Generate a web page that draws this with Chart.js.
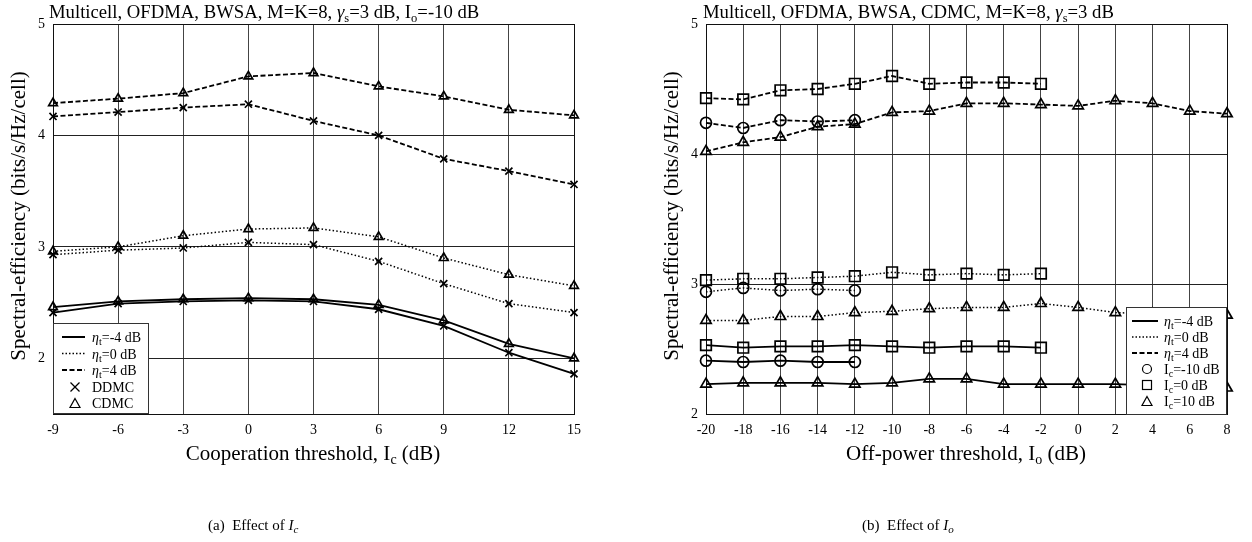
<!DOCTYPE html>
<html>
<head>
<meta charset="utf-8">
<script src="https://cdn.jsdelivr.net/npm/chart.js@4/dist/chart.umd.min.js"></script>
<style>
  html, body { margin:0; padding:0; background:#fff; }
  #wrap { position:relative; width:1252px; height:542px; overflow:hidden; }
  canvas { position:absolute; top:0; }
  #overlay { position:absolute; left:0; top:0; pointer-events:none; }
</style>
</head>
<body>
<div id="wrap">
  <canvas id="c1" width="626" height="470" style="left:0"></canvas>
  <canvas id="c2" width="626" height="470" style="left:626px"></canvas>
  <svg id="overlay" width="1252" height="542" font-family="Liberation Serif, Times New Roman, serif" fill="#000">
    <!-- titles -->
    <text x="49" y="17.5" font-size="18.7">Multicell, OFDMA, BWSA, M=K=8, <tspan font-style="italic">γ</tspan><tspan font-size="12.5" dy="4">s</tspan><tspan dy="-4">=3 dB, I</tspan><tspan font-size="12.5" dy="4">o</tspan><tspan dy="-4">=-10 dB</tspan></text>
    <text x="703" y="17.5" font-size="18.7">Multicell, OFDMA, BWSA, CDMC, M=K=8, <tspan font-style="italic">γ</tspan><tspan font-size="12.5" dy="4">s</tspan><tspan dy="-4">=3 dB</tspan></text>
    <!-- y labels -->
    <text transform="translate(25,216) rotate(-90)" text-anchor="middle" font-size="21">Spectral-efficiency (bits/s/Hz/cell)</text>
    <text transform="translate(678,216) rotate(-90)" text-anchor="middle" font-size="21">Spectral-efficiency (bits/s/Hz/cell)</text>
    <!-- x labels -->
    <text x="313" y="460" text-anchor="middle" font-size="21">Cooperation threshold, I<tspan font-size="14" dy="4">c</tspan><tspan dy="-4"> (dB)</tspan></text>
    <text x="966" y="460" text-anchor="middle" font-size="21">Off-power threshold, I<tspan font-size="14" dy="4">o</tspan><tspan dy="-4"> (dB)</tspan></text>
    <!-- captions -->
    <text x="208" y="530" font-size="15" xml:space="preserve">(a)  Effect of <tspan font-style="italic">I</tspan><tspan font-style="italic" font-size="11" dy="3">c</tspan></text>
    <text x="862" y="530" font-size="15" xml:space="preserve">(b)  Effect of <tspan font-style="italic">I</tspan><tspan font-style="italic" font-size="11" dy="3">o</tspan></text>

    <!-- left legend -->
    <g id="leg1">
      <rect x="53.5" y="323.5" width="95" height="90" fill="#fff" stroke="#333" stroke-width="1"/>
      <line x1="62" y1="337" x2="85" y2="337" stroke="#000" stroke-width="2"/>
      <line x1="62" y1="353.5" x2="85" y2="353.5" stroke="#000" stroke-width="1.5" stroke-dasharray="1.5 2"/>
      <line x1="62" y1="370" x2="85" y2="370" stroke="#000" stroke-width="2" stroke-dasharray="5 2.5"/>
      <g stroke="#000" stroke-width="1.3">
        <line x1="70.5" y1="382.5" x2="79.5" y2="391.5"/><line x1="70.5" y1="391.5" x2="79.5" y2="382.5"/>
      </g>
      <polygon points="75,398.5 80,407.5 70,407.5" fill="none" stroke="#000" stroke-width="1.2"/>
      <g font-size="14">
        <text x="92" y="342"><tspan font-style="italic">η</tspan><tspan font-size="10" dy="3">t</tspan><tspan dy="-3">=-4 dB</tspan></text>
        <text x="92" y="358.5"><tspan font-style="italic">η</tspan><tspan font-size="10" dy="3">t</tspan><tspan dy="-3">=0 dB</tspan></text>
        <text x="92" y="375"><tspan font-style="italic">η</tspan><tspan font-size="10" dy="3">t</tspan><tspan dy="-3">=4 dB</tspan></text>
        <text x="92" y="391.5">DDMC</text>
        <text x="92" y="408">CDMC</text>
      </g>
    </g>

    <!-- right legend -->
    <g id="leg2">
      <rect x="1126.5" y="307.5" width="100" height="107" fill="#fff" stroke="#333" stroke-width="1"/>
      <line x1="1132" y1="321" x2="1158" y2="321" stroke="#000" stroke-width="2"/>
      <line x1="1132" y1="337" x2="1158" y2="337" stroke="#000" stroke-width="1.5" stroke-dasharray="1.5 2"/>
      <line x1="1132" y1="353" x2="1158" y2="353" stroke="#000" stroke-width="2" stroke-dasharray="5 2.5"/>
      <circle cx="1147" cy="369" r="4.5" fill="none" stroke="#000" stroke-width="1.2"/>
      <rect x="1142.5" y="380.5" width="9" height="9" fill="none" stroke="#000" stroke-width="1.2"/>
      <polygon points="1147,396.5 1152,405.5 1142,405.5" fill="none" stroke="#000" stroke-width="1.2"/>
      <g font-size="14">
        <text x="1164" y="326"><tspan font-style="italic">η</tspan><tspan font-size="10" dy="3">t</tspan><tspan dy="-3">=-4 dB</tspan></text>
        <text x="1164" y="342"><tspan font-style="italic">η</tspan><tspan font-size="10" dy="3">t</tspan><tspan dy="-3">=0 dB</tspan></text>
        <text x="1164" y="358"><tspan font-style="italic">η</tspan><tspan font-size="10" dy="3">t</tspan><tspan dy="-3">=4 dB</tspan></text>
        <text x="1164" y="374">I<tspan font-size="10" dy="3">c</tspan><tspan dy="-3">=-10 dB</tspan></text>
        <text x="1164" y="390">I<tspan font-size="10" dy="3">c</tspan><tspan dy="-3">=0 dB</tspan></text>
        <text x="1164" y="406">I<tspan font-size="10" dy="3">c</tspan><tspan dy="-3">=10 dB</tspan></text>
      </g>
    </g>
  </svg>
</div>
<script>
// ---------------- DATA ----------------
// (a) Effect of Ic
const icValues = [-9, -6, -3, 0, 3, 6, 9, 12, 15];
const ddmcEtaM4 = [2.41, 2.49, 2.51, 2.52, 2.51, 2.44, 2.29, 2.05, 1.86];
const cdmcEtaM4 = [2.46, 2.51, 2.53, 2.54, 2.53, 2.48, 2.34, 2.13, 2.00];
const ddmcEta0  = [2.93, 2.97, 2.99, 3.04, 3.02, 2.87, 2.67, 2.49, 2.41];
const cdmcEta0  = [2.96, 3.00, 3.10, 3.16, 3.17, 3.09, 2.90, 2.75, 2.65];
const ddmcEta4  = [4.17, 4.21, 4.25, 4.28, 4.13, 4.00, 3.79, 3.68, 3.56];
const cdmcEta4  = [4.29, 4.33, 4.38, 4.53, 4.56, 4.44, 4.35, 4.23, 4.18];
const leftYTicks = [2, 3, 4, 5];

// (b) Effect of Io
const ioValues = [-20, -18, -16, -14, -12, -10, -8, -6, -4, -2, 0, 2, 4, 6, 8];
const icM10EtaM4 = [2.41, 2.40, 2.41, 2.40, 2.40];
const ic0EtaM4   = [2.53, 2.51, 2.52, 2.52, 2.53, 2.52, 2.51, 2.52, 2.52, 2.51];
const ic10EtaM4  = [2.23, 2.24, 2.24, 2.24, 2.23, 2.24, 2.27, 2.27, 2.23, 2.23, 2.23, 2.23, 2.22, 2.21, 2.20];
const icM10Eta0  = [2.94, 2.97, 2.95, 2.96, 2.95];
const ic0Eta0    = [3.03, 3.04, 3.04, 3.05, 3.06, 3.09, 3.07, 3.08, 3.07, 3.08];
const ic10Eta0   = [2.72, 2.72, 2.75, 2.75, 2.78, 2.79, 2.81, 2.82, 2.82, 2.85, 2.82, 2.78, 2.77, 2.76, 2.76];
const icM10Eta4  = [4.24, 4.20, 4.26, 4.25, 4.26];
const ic0Eta4    = [4.43, 4.42, 4.49, 4.50, 4.54, 4.60, 4.54, 4.55, 4.55, 4.54];
const ic10Eta4   = [4.02, 4.09, 4.13, 4.21, 4.23, 4.32, 4.33, 4.39, 4.39, 4.38, 4.37, 4.41, 4.39, 4.33, 4.31];
const rightYTicks = [2, 3, 4, 5];

// ---------------- STYLES ----------------
const DASH = { solid: [], dotted: [1.5, 2.2], dashed: [5, 2.5] };
const WIDTH = { solid: 1.8, dotted: 1.5, dashed: 1.8 };

function series(xs, ys, line, marker, radius) {
  return {
    data: ys.map((y, i) => ({ x: xs[i], y })),
    borderColor: '#000',
    borderWidth: WIDTH[line],
    borderDash: DASH[line],
    pointStyle: marker,
    pointRadius: radius,
    pointBorderWidth: 1.7,
    pointBorderColor: '#000',
    pointBackgroundColor: 'rgba(0,0,0,0)',
    fill: false,
    tension: 0,
    clip: false
  };
}

const frame = {
  id: 'frame',
  beforeDatasetsDraw(chart) {
    const { ctx, chartArea: a } = chart;
    ctx.save();
    ctx.strokeStyle = '#111';
    ctx.lineWidth = 1;
    ctx.strokeRect(Math.round(a.left) + 0.5, Math.round(a.top) + 0.5,
      Math.round(a.right - a.left), Math.round(a.bottom - a.top));
    ctx.restore();
  }
};

const tickFont = { family: 'Liberation Serif', size: 14 };

function makeOptions(xMin, xMax, xStep, yMin, yMax, yTicks, yWidth, padRight) {
  return {
    responsive: false,
    animation: false,
    devicePixelRatio: 1,
    events: [],
    layout: { padding: { top: 24, right: padRight, left: 0, bottom: 0 } },
    plugins: { legend: { display: false }, tooltip: { enabled: false }, title: { display: false } },
    scales: {
      x: {
        type: 'linear', min: xMin, max: xMax,
        ticks: { stepSize: xStep, color: '#000', font: tickFont, padding: 8, maxRotation: 0 },
        grid: { color: '#444', lineWidth: 1, drawTicks: false },
        border: { display: false },
        afterFit(s) { s.height = 56; }
      },
      y: {
        type: 'linear', min: yMin, max: yMax,
        afterBuildTicks(s) { s.ticks = yTicks.map(v => ({ value: v })); },
        ticks: { color: '#000', font: tickFont, padding: 8 },
        grid: { color: '#222', lineWidth: 1, drawTicks: false },
        border: { display: false },
        afterFit(s) { s.width = yWidth; }
      }
    }
  };
}

new Chart(document.getElementById('c1'), {
  type: 'line',
  data: {
    datasets: [
      series(icValues, ddmcEtaM4, 'solid', 'crossRot', 5),
      series(icValues, cdmcEtaM4, 'solid', 'triangle', 5),
      series(icValues, ddmcEta0, 'dotted', 'crossRot', 5),
      series(icValues, cdmcEta0, 'dotted', 'triangle', 5),
      series(icValues, ddmcEta4, 'dashed', 'crossRot', 5),
      series(icValues, cdmcEta4, 'dashed', 'triangle', 5)
    ]
  },
  options: makeOptions(-9, 15, 3, 1.5, 5, leftYTicks, 53, 52),
  plugins: [frame]
});

new Chart(document.getElementById('c2'), {
  type: 'line',
  data: {
    datasets: [
      series(ioValues, icM10EtaM4, 'solid', 'circle', 5.5),
      series(ioValues, ic0EtaM4, 'solid', 'rect', 7.5),
      series(ioValues, ic10EtaM4, 'solid', 'triangle', 6),
      series(ioValues, icM10Eta0, 'dotted', 'circle', 5.5),
      series(ioValues, ic0Eta0, 'dotted', 'rect', 7.5),
      series(ioValues, ic10Eta0, 'dotted', 'triangle', 6),
      series(ioValues, icM10Eta4, 'dashed', 'circle', 5.5),
      series(ioValues, ic0Eta4, 'dashed', 'rect', 7.5),
      series(ioValues, ic10Eta4, 'dashed', 'triangle', 6)
    ]
  },
  options: makeOptions(-20, 8, 2, 2, 5, rightYTicks, 80, 25),
  plugins: [frame]
});
</script>
</body>
</html>
